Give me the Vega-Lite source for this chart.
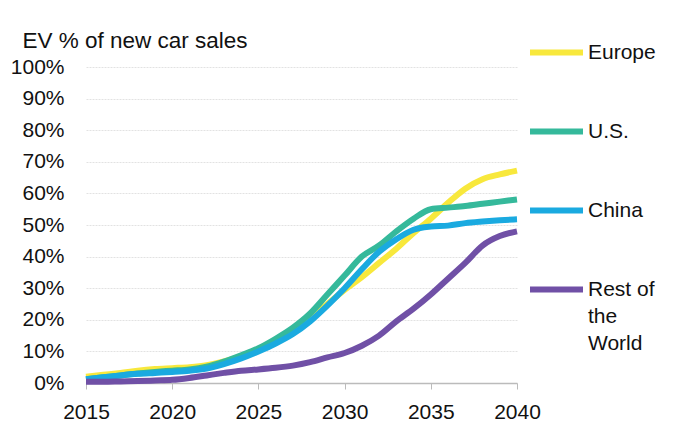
{
  "$schema": "https://vega.github.io/schema/vega-lite/v6.json",
  "width": 431,
  "height": 316,
  "autosize": {"type": "none"},
  "padding": {"left": 86, "top": 67, "right": 157, "bottom": 48},
  "background": "white",
  "config": {
    "view": {"stroke": null},
    "font": "Liberation Sans",
    "text": {"font": "Liberation Sans"}
  },
  "data": {
    "values": [
      {"year": 2015, "region": "Europe", "share": 2.0},
      {"year": 2016, "region": "Europe", "share": 2.6},
      {"year": 2017, "region": "Europe", "share": 3.2},
      {"year": 2018, "region": "Europe", "share": 3.9},
      {"year": 2019, "region": "Europe", "share": 4.4},
      {"year": 2020, "region": "Europe", "share": 4.7},
      {"year": 2021, "region": "Europe", "share": 5.0},
      {"year": 2022, "region": "Europe", "share": 5.6},
      {"year": 2023, "region": "Europe", "share": 6.8},
      {"year": 2024, "region": "Europe", "share": 8.5},
      {"year": 2025, "region": "Europe", "share": 10.5},
      {"year": 2026, "region": "Europe", "share": 13.0},
      {"year": 2027, "region": "Europe", "share": 16.0},
      {"year": 2028, "region": "Europe", "share": 20.5},
      {"year": 2029, "region": "Europe", "share": 25.0},
      {"year": 2030, "region": "Europe", "share": 29.5},
      {"year": 2031, "region": "Europe", "share": 33.5},
      {"year": 2032, "region": "Europe", "share": 38.0},
      {"year": 2033, "region": "Europe", "share": 42.5},
      {"year": 2034, "region": "Europe", "share": 47.5},
      {"year": 2035, "region": "Europe", "share": 52.0},
      {"year": 2036, "region": "Europe", "share": 57.0},
      {"year": 2037, "region": "Europe", "share": 61.5},
      {"year": 2038, "region": "Europe", "share": 64.5},
      {"year": 2039, "region": "Europe", "share": 66.0},
      {"year": 2040, "region": "Europe", "share": 67.2},
      {"year": 2015, "region": "U.S.", "share": 1.2},
      {"year": 2016, "region": "U.S.", "share": 1.8},
      {"year": 2017, "region": "U.S.", "share": 2.4},
      {"year": 2018, "region": "U.S.", "share": 3.0},
      {"year": 2019, "region": "U.S.", "share": 3.5},
      {"year": 2020, "region": "U.S.", "share": 3.9},
      {"year": 2021, "region": "U.S.", "share": 4.3},
      {"year": 2022, "region": "U.S.", "share": 5.2},
      {"year": 2023, "region": "U.S.", "share": 6.8},
      {"year": 2024, "region": "U.S.", "share": 8.8},
      {"year": 2025, "region": "U.S.", "share": 11.0},
      {"year": 2026, "region": "U.S.", "share": 14.0},
      {"year": 2027, "region": "U.S.", "share": 17.5},
      {"year": 2028, "region": "U.S.", "share": 22.0},
      {"year": 2029, "region": "U.S.", "share": 28.0},
      {"year": 2030, "region": "U.S.", "share": 34.0},
      {"year": 2031, "region": "U.S.", "share": 40.0},
      {"year": 2032, "region": "U.S.", "share": 43.5},
      {"year": 2033, "region": "U.S.", "share": 48.0},
      {"year": 2034, "region": "U.S.", "share": 52.0},
      {"year": 2035, "region": "U.S.", "share": 55.0},
      {"year": 2036, "region": "U.S.", "share": 55.5},
      {"year": 2037, "region": "U.S.", "share": 56.0},
      {"year": 2038, "region": "U.S.", "share": 56.7},
      {"year": 2039, "region": "U.S.", "share": 57.4},
      {"year": 2040, "region": "U.S.", "share": 58.1},
      {"year": 2015, "region": "China", "share": 1.2},
      {"year": 2016, "region": "China", "share": 1.8},
      {"year": 2017, "region": "China", "share": 2.4},
      {"year": 2018, "region": "China", "share": 2.9},
      {"year": 2019, "region": "China", "share": 3.2},
      {"year": 2020, "region": "China", "share": 3.5},
      {"year": 2021, "region": "China", "share": 3.9},
      {"year": 2022, "region": "China", "share": 4.6},
      {"year": 2023, "region": "China", "share": 6.0},
      {"year": 2024, "region": "China", "share": 7.8},
      {"year": 2025, "region": "China", "share": 10.0},
      {"year": 2026, "region": "China", "share": 12.5},
      {"year": 2027, "region": "China", "share": 15.5},
      {"year": 2028, "region": "China", "share": 19.5},
      {"year": 2029, "region": "China", "share": 24.5},
      {"year": 2030, "region": "China", "share": 30.0},
      {"year": 2031, "region": "China", "share": 36.0},
      {"year": 2032, "region": "China", "share": 41.5},
      {"year": 2033, "region": "China", "share": 45.5},
      {"year": 2034, "region": "China", "share": 48.5},
      {"year": 2035, "region": "China", "share": 49.5},
      {"year": 2036, "region": "China", "share": 49.8},
      {"year": 2037, "region": "China", "share": 50.6},
      {"year": 2038, "region": "China", "share": 51.1},
      {"year": 2039, "region": "China", "share": 51.5},
      {"year": 2040, "region": "China", "share": 51.8},
      {"year": 2015, "region": "Rest of the World", "share": 0.4},
      {"year": 2016, "region": "Rest of the World", "share": 0.4},
      {"year": 2017, "region": "Rest of the World", "share": 0.5},
      {"year": 2018, "region": "Rest of the World", "share": 0.6},
      {"year": 2019, "region": "Rest of the World", "share": 0.8},
      {"year": 2020, "region": "Rest of the World", "share": 1.0},
      {"year": 2021, "region": "Rest of the World", "share": 1.6},
      {"year": 2022, "region": "Rest of the World", "share": 2.4},
      {"year": 2023, "region": "Rest of the World", "share": 3.2},
      {"year": 2024, "region": "Rest of the World", "share": 3.9},
      {"year": 2025, "region": "Rest of the World", "share": 4.3},
      {"year": 2026, "region": "Rest of the World", "share": 4.8},
      {"year": 2027, "region": "Rest of the World", "share": 5.5},
      {"year": 2028, "region": "Rest of the World", "share": 6.6},
      {"year": 2029, "region": "Rest of the World", "share": 8.1},
      {"year": 2030, "region": "Rest of the World", "share": 9.5},
      {"year": 2031, "region": "Rest of the World", "share": 11.8},
      {"year": 2032, "region": "Rest of the World", "share": 15.0},
      {"year": 2033, "region": "Rest of the World", "share": 19.5},
      {"year": 2034, "region": "Rest of the World", "share": 23.5},
      {"year": 2035, "region": "Rest of the World", "share": 28.0},
      {"year": 2036, "region": "Rest of the World", "share": 33.0},
      {"year": 2037, "region": "Rest of the World", "share": 38.0},
      {"year": 2038, "region": "Rest of the World", "share": 43.5},
      {"year": 2039, "region": "Rest of the World", "share": 46.5},
      {"year": 2040, "region": "Rest of the World", "share": 48.0}
    ]
  },
  "mark": {"type": "line", "strokeWidth": 6, "strokeJoin": "round", "interpolate": "monotone"},
  "encoding": {
    "x": {
      "field": "year",
      "type": "quantitative",
      "scale": {"domain": [2015, 2040], "nice": false, "zero": false},
      "axis": {
        "values": [2015, 2020, 2025, 2030, 2035, 2040],
        "format": "d",
        "title": null,
        "grid": false,
        "domainColor": "#bbbbbb",
        "domainWidth": 1.5,
        "tickColor": "#bbbbbb",
        "tickSize": 6,
        "labelFontSize": 21,
        "labelColor": "#111111",
        "labelPadding": 12,
        "labelFlush": false
      }
    },
    "y": {
      "field": "share",
      "type": "quantitative",
      "scale": {"domain": [0, 100], "nice": false},
      "axis": {
        "values": [0, 10, 20, 30, 40, 50, 60, 70, 80, 90, 100],
        "labelExpr": "datum.value + '%'",
        "domain": false,
        "ticks": false,
        "grid": true,
        "gridColor": "#e2e2e2",
        "gridDash": [2, 1],
        "labelFontSize": 21,
        "labelColor": "#111111",
        "labelPadding": 22,
        "title": "EV % of new car sales",
        "titleAngle": 0,
        "titleAlign": "left",
        "titleBaseline": "alphabetic",
        "titleX": -64,
        "titleY": -20,
        "titleFontSize": 22.5,
        "titleFontWeight": "normal",
        "titleColor": "#111111"
      }
    },
    "color": {
      "field": "region",
      "type": "nominal",
      "scale": {
        "domain": ["Europe", "U.S.", "China", "Rest of the World"],
        "range": ["#f8e83c", "#35b99b", "#1aaae0", "#7050a6"]
      },
      "legend": {
        "orient": "none",
        "legendX": 441,
        "legendY": -44,
        "title": null,
        "symbolType": "stroke",
        "symbolSize": 2809,
        "symbolStrokeWidth": 6,
        "labelFontSize": 21,
        "labelColor": "#111111",
        "labelOffset": 2,
        "rowPadding": 37,
        "labelLimit": 200,
        "labelExpr": "datum.label == 'Rest of the World' ? ['Rest of', 'the', 'World'] : datum.label",
        "encode": {"labels": {"update": {"lineHeight": {"value": 27}}}}
      }
    }
  }
}
